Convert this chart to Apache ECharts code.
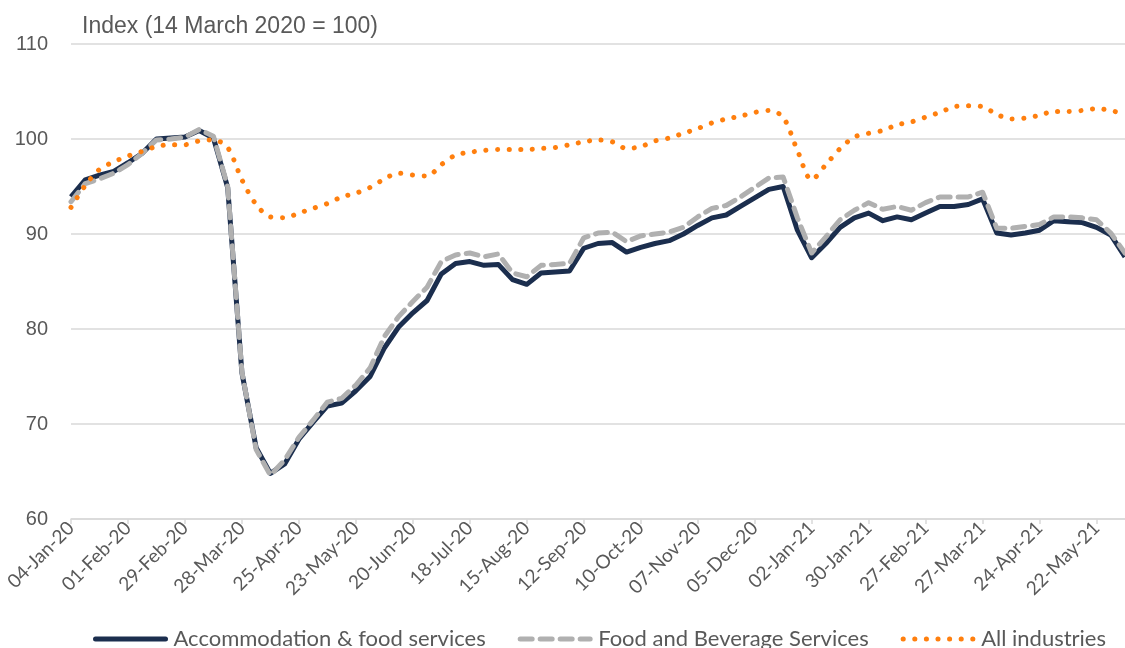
<!DOCTYPE html>
<html>
<head>
<meta charset="utf-8">
<script src="https://cdn.jsdelivr.net/npm/echarts@6/dist/echarts.min.js"></script>
<style>
  html, body { margin: 0; padding: 0; background: #fff; }
  #chart { width: 1125px; height: 648px; }
</style>
</head>
<body>
<div id="chart"></div>
<script>
const weeks = [
  '04-Jan-20', '11-Jan-20', '18-Jan-20', '25-Jan-20', '01-Feb-20', '08-Feb-20', '15-Feb-20', '22-Feb-20', '29-Feb-20',
  '07-Mar-20', '14-Mar-20', '21-Mar-20', '28-Mar-20', '04-Apr-20', '11-Apr-20', '18-Apr-20', '25-Apr-20',
  '02-May-20', '09-May-20', '16-May-20', '23-May-20', '30-May-20', '06-Jun-20', '13-Jun-20', '20-Jun-20', '27-Jun-20',
  '04-Jul-20', '11-Jul-20', '18-Jul-20', '25-Jul-20', '01-Aug-20', '08-Aug-20', '15-Aug-20', '22-Aug-20', '29-Aug-20',
  '05-Sep-20', '12-Sep-20', '19-Sep-20', '26-Sep-20', '03-Oct-20', '10-Oct-20', '17-Oct-20', '24-Oct-20', '31-Oct-20',
  '07-Nov-20', '14-Nov-20', '21-Nov-20', '28-Nov-20', '05-Dec-20', '12-Dec-20', '19-Dec-20', '26-Dec-20',
  '02-Jan-21', '09-Jan-21', '16-Jan-21', '23-Jan-21', '30-Jan-21', '06-Feb-21', '13-Feb-21', '20-Feb-21', '27-Feb-21',
  '06-Mar-21', '13-Mar-21', '20-Mar-21', '27-Mar-21', '03-Apr-21', '10-Apr-21', '17-Apr-21', '24-Apr-21',
  '01-May-21', '08-May-21', '15-May-21', '22-May-21', '29-May-21', '05-Jun-21'
]

const accommodation = [
  93.9, 95.7, 96.2, 96.6, 97.5, 98.5, 100.0, 100.1, 100.2, 100.9, 100.1, 94.9, 75.4, 67.5, 64.8,
  65.8, 68.4, 70.2, 71.9, 72.2, 73.5, 75.0, 78.0, 80.2, 81.7, 83.0, 85.8, 86.9, 87.1, 86.7,
  86.8, 85.2, 84.7, 85.9, 86.0, 86.1, 88.5, 89.0, 89.1, 88.1, 88.6, 89.0, 89.3, 90.0, 90.9,
  91.7, 92.0, 92.9, 93.8, 94.7, 95.0, 90.4, 87.5, 89.0, 90.7, 91.7, 92.2, 91.4, 91.8, 91.5,
  92.2, 92.9, 92.9, 93.1, 93.7, 90.1, 89.9, 90.1, 90.4, 91.4, 91.3, 91.2, 90.7, 89.9, 87.6
]

const foodBeverage = [
  93.4, 95.3, 95.8, 96.4, 97.3, 98.5, 99.9, 100.0, 100.2, 101.0, 100.3, 95.0, 75.5, 67.3, 64.6,
  66.2, 68.6, 70.4, 72.3, 72.7, 74.1, 75.9, 79.2, 81.3, 82.9, 84.4, 87.1, 87.8, 88.0, 87.6,
  87.9, 85.9, 85.5, 86.7, 86.8, 86.9, 89.6, 90.1, 90.2, 89.2, 89.8, 90.0, 90.2, 90.7, 91.8,
  92.7, 93.0, 93.9, 94.9, 95.9, 96.0, 91.7, 88.0, 89.7, 91.5, 92.5, 93.3, 92.6, 92.9, 92.5,
  93.3, 93.9, 93.9, 93.9, 94.4, 90.6, 90.6, 90.8, 91.0, 91.8, 91.8, 91.7, 91.5, 90.1, 88.0
]

const allIndustries = [
  92.8, 95.1, 96.8, 97.6, 98.2, 98.7, 99.2, 99.4, 99.4, 99.8, 99.9, 99.1, 95.7, 93.1, 91.8,
  91.7, 92.2, 92.7, 93.2, 93.9, 94.3, 94.9, 95.8, 96.4, 96.2, 96.1, 97.3, 98.3, 98.6, 98.8,
  98.9, 98.9, 98.9, 99.0, 99.1, 99.4, 99.7, 99.9, 99.7, 99.0, 99.2, 99.8, 100.1, 100.6, 101.1,
  101.7, 102.1, 102.4, 102.8, 103.0, 102.3, 98.8, 95.7, 97.3, 99.0, 100.2, 100.6, 100.9, 101.5, 101.8,
  102.3, 102.8, 103.4, 103.5, 103.4, 102.6, 102.1, 102.2, 102.5, 102.9, 102.9, 103.0, 103.2, 103.0, 102.6
]

const seriesNames = ['Accommodation & food services', 'Food and Beverage Services', 'All industries']
const colors = ['#1b2e4e', '#b0b0b0', '#ff7f0e']
const lineTypes = ['solid', [12, 8], [0.1, 11.5]]

const textColor = '#595959'
const gridColor = '#d9d9d9'

const chart = echarts.init(document.getElementById('chart'))
chart.setOption({
  animation: false,
  title: {
    text: 'Index (14 March 2020 = 100)',
    left: 77,
    top: 10,
    textStyle: {
      color: textColor,
      fontSize: 23,
      fontWeight: 'normal',
      fontFamily: 'Liberation Sans',
    },
  },
  grid: {
    left: 71,
    right: 0,
    top: 44,
    bottom: 129,
  },
  legend: {
    top: 623,
    left: 88,
    itemWidth: 70,
    itemHeight: 14,
    itemGap: 32,
    itemStyle: { opacity: 0 },
    data: seriesNames.map((name, i) => ({
      name,
      lineStyle: { color: colors[i], width: 5, type: lineTypes[i], cap: 'round' },
    })),
    textStyle: {
      color: textColor,
      fontSize: 22,
      fontFamily: 'Lato',
      padding: [0, 0, 0, 3],
    },
  },
  xAxis: {
    type: 'category',
    data: weeks,
    boundaryGap: false,
    axisLine: {
      lineStyle: { color: gridColor, width: 1.5 },
    },
    axisTick: {
      interval: 3,
      length: 5,
      lineStyle: { color: gridColor, width: 1.5 },
    },
    axisLabel: {
      interval: 3,
      rotate: 45,
      margin: 6,
      color: textColor,
      fontSize: 19,
      fontFamily: 'Lato',
    },
  },
  yAxis: {
    type: 'value',
    min: 60,
    max: 110,
    interval: 10,
    axisLine: { show: false },
    axisTick: { show: false },
    axisLabel: {
      margin: 23,
      color: textColor,
      fontSize: 20,
      fontFamily: 'Liberation Sans',
    },
    splitLine: {
      lineStyle: { color: gridColor, width: 1.5 },
    },
  },
  series: [
    {
      name: seriesNames[0],
      type: 'line',
      data: accommodation,
      symbol: 'none',
      lineStyle: { color: colors[0], width: 5, join: 'round' },
      itemStyle: { color: colors[0] },
      z: 2,
    },
    {
      name: seriesNames[1],
      type: 'line',
      data: foodBeverage,
      symbol: 'none',
      lineStyle: { color: colors[1], width: 5, type: lineTypes[1], cap: 'round', join: 'round' },
      itemStyle: { color: colors[1] },
      z: 3,
    },
    {
      name: seriesNames[2],
      type: 'line',
      data: allIndustries,
      symbol: 'none',
      smooth: 0.3,
      lineStyle: { color: colors[2], width: 5, type: lineTypes[2], cap: 'round' },
      itemStyle: { color: colors[2] },
      z: 4,
    },
  ],
})
</script>
</body>
</html>
